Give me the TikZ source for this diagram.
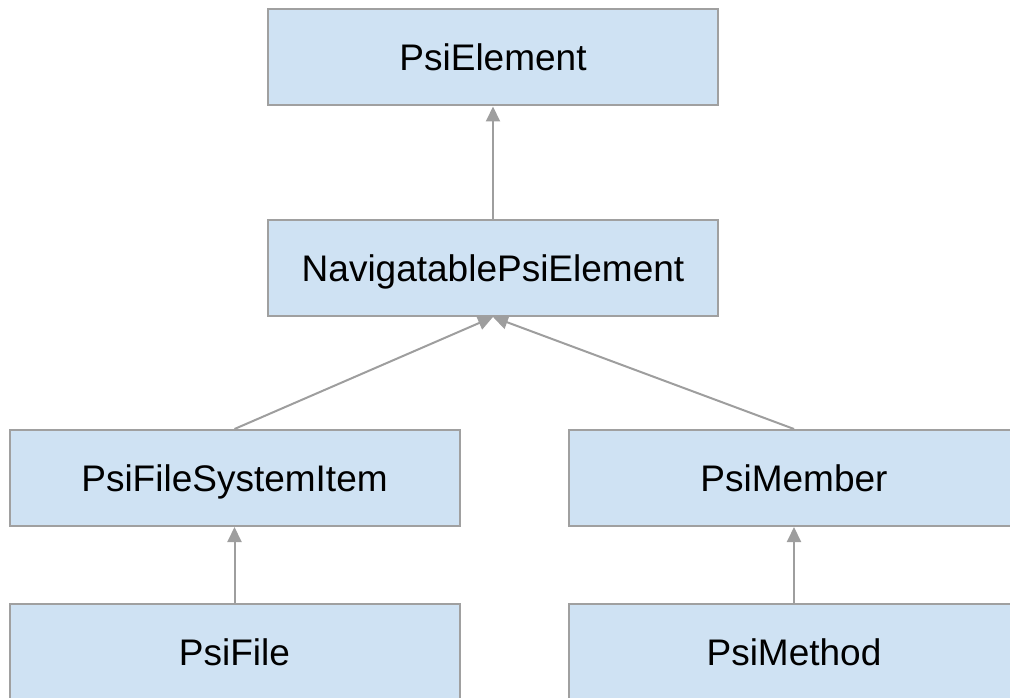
\documentclass[tikz,border=0pt]{standalone}
\usepackage{fontspec}
\setmainfont{Liberation Sans}
\usepackage{tikz}
\usetikzlibrary{positioning,arrows.meta}
\definecolor{psiFill}{HTML}{CFE2F3}
\definecolor{psiBorder}{HTML}{A0A0A0}
\definecolor{psiArrow}{HTML}{9E9E9E}
\tikzset{
  clsnode/.style={draw=psiBorder, fill=psiFill, line width=2pt,
                  minimum width=450pt, minimum height=96pt, inner sep=0pt,
                  text height=26pt, text depth=0pt,
                  font=\fontsize{37}{44}\selectfont},
  inharrow/.style={-{Triangle[length=15pt, width=14pt]}, line width=2pt,
                   draw=psiArrow, fill=psiArrow},
}
\begin{document}
\begin{tikzpicture}[x=1pt, y=-1pt]
\def\xLeft{234.5}    % x-position for left column
\def\xMid{493}       % x-position for middle column
\def\xRight{794}     % x-position for right column

\useasboundingbox (0,0) rectangle (1010,698);
\clip (0,0) rectangle (1010,698);

%% Classes
\node[clsnode] (elem)   at (\xMid, 57.5)  {PsiElement};
\node[clsnode] (nav)    at (\xMid, 268)   {NavigatablePsiElement};
\node[clsnode] (fsitem) at (\xLeft, 478)  {PsiFileSystemItem};
\node[clsnode] (member) at (\xRight, 478) {PsiMember};
\node[clsnode] (file)   at (\xLeft, 652)  {PsiFile};
\node[clsnode] (method) at (\xRight, 652) {PsiMethod};

%% Inheritance
\draw[inharrow] (nav) -- (elem);
\draw[inharrow] (fsitem.north) -- (nav.south);
\draw[inharrow] (member.north) -- (nav.south);
\draw[inharrow] (file) -- (fsitem);
\draw[inharrow] (method) -- (member);
\end{tikzpicture}
\end{document}
